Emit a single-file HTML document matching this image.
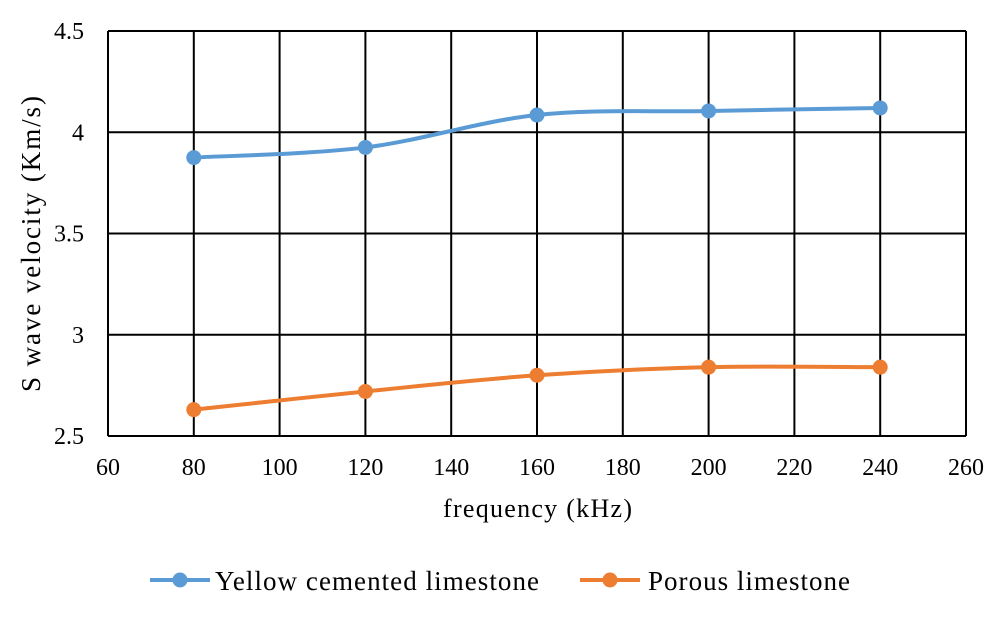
<!DOCTYPE html>
<html><head><meta charset="utf-8"><style>
body{margin:0;background:#fff;}
svg{display:block;font-family:"Liberation Serif",serif;}
</style></head><body>
<svg id="c" width="992" height="624"></svg>
<script>
const xTicks=[60,80,100,120,140,160,180,200,220,240,260];
const yTicks=[2.5,3,3.5,4,4.5];
const freqs=[80,120,160,200,240];
const yellow=[3.875,3.925,4.085,4.105,4.12];
const porous=[2.63,2.72,2.8,2.84,2.84];
const NS="http://www.w3.org/2000/svg";
const svg=document.getElementById('c');
const L=108,R=966,T=31,B=436;
function sx(v){return L+(v-60)/200*(R-L);}
function sy(v){return B-(v-2.5)/2*(B-T);}
function el(t,a,p){const e=document.createElementNS(NS,t);for(const k in a)e.setAttribute(k,a[k]);(p||svg).appendChild(e);return e;}
xTicks.forEach(v=>{
  const l=el('line',{x1:sx(v),x2:sx(v),y1:T,y2:B,stroke:'#000','stroke-width':2});
  
  
  const t=el('text',{x:sx(v),y:475,'text-anchor':'middle','font-size':24});
  t.textContent=v;
  
  
});
yTicks.forEach(v=>{
  const l=el('line',{x1:L,x2:R,y1:sy(v),y2:sy(v),stroke:'#000','stroke-width':2});
  
  
  const t=el('text',{x:84,y:sy(v)+8,'text-anchor':'end','font-size':24});
  t.textContent=v;
  
  
});
function smooth(pts){
  let d=`M${pts[0][0]},${pts[0][1]}`;
  for(let i=0;i<pts.length-1;i++){
    const p0=pts[Math.max(i-1,0)],p1=pts[i],p2=pts[i+1],p3=pts[Math.min(i+2,pts.length-1)];
    const c1=[p1[0]+(p2[0]-p0[0])/6,p1[1]+(p2[1]-p0[1])/6];
    const c2=[p2[0]-(p3[0]-p1[0])/6,p2[1]-(p3[1]-p1[1])/6];
    d+=` C${c1[0]},${c1[1]} ${c2[0]},${c2[1]} ${p2[0]},${p2[1]}`;
  }
  return d;
}
function series(vals,color,name){
  const pts=freqs.map((f,i)=>[sx(f),sy(vals[i])]);
  const p=el('path',{d:smooth(pts),fill:'none',stroke:color,'stroke-width':4});
  
  
  pts.forEach(q=>{
    const c=el('circle',{cx:q[0],cy:q[1],r:7.5,fill:color});
    
    
  });
}
series(yellow,'#5b9bd5','yellow-cemented');
series(porous,'#ed7d31','porous');
</script>
<svg width="992" height="624" style="position:absolute;left:0;top:0" font-family="Liberation Serif, serif">
<text x="443" y="517" font-size="26" textLength="189" lengthAdjust="spacing">frequency (kHz)</text>
<text transform="translate(40,392) rotate(-90)" font-size="27" textLength="296" lengthAdjust="spacing">S wave velocity (Km/s)</text>
<g>
<line x1="150" x2="210" y1="580" y2="580" stroke="#5b9bd5" stroke-width="4"/>
<circle cx="180" cy="580" r="7.5" fill="#5b9bd5"/>
<text x="215" y="590" font-size="27" textLength="324" lengthAdjust="spacing">Yellow cemented limestone</text></g>
<g>
<line x1="580" x2="640" y1="580" y2="580" stroke="#ed7d31" stroke-width="4"/>
<circle cx="610" cy="580" r="7.5" fill="#ed7d31"/>
<text x="648" y="590" font-size="27" textLength="202" lengthAdjust="spacing">Porous limestone</text></g>
</svg>
</body></html>
